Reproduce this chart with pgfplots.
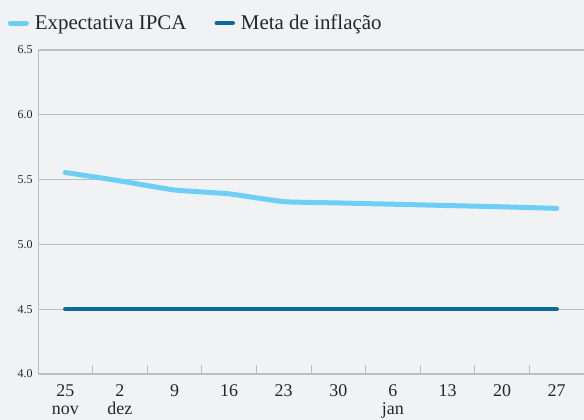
\documentclass[border=0pt]{standalone}
\usepackage{pgfplots}
\pgfplotsset{compat=1.18}
\usepackage{fontspec}
\setmainfont{Liberation Serif}
\definecolor{bgc}{HTML}{F1F2F4}
\definecolor{expc}{HTML}{6ECFF6}
\definecolor{metac}{HTML}{0B6A96}
\definecolor{gridc}{HTML}{BDBDBF}
\definecolor{txtc}{HTML}{262626}

\begin{document}
\begin{tikzpicture}
  \path[fill=bgc, use as bounding box] (0,0) rectangle (584bp,420bp);
  \begin{axis}[
    at={(38bp,46bp)}, anchor=south west,
    scale only axis,
    width=546bp, height=324bp,
    xmin=-0.5, xmax=9.5,
    ymin=4.0, ymax=6.5,
    axis x line=bottom, axis y line=left,
    axis line style={gridc, line width=1bp, -},
    xtick={0,...,9},
    xticklabels={25\\nov, 2\\dez, 9, 16, 23, 30, 6\\jan, 13, 20, 27},
    xticklabel style={align=center, font=\fontsize{18}{18}\selectfont, text=txtc, inner sep=1bp, yshift=-9bp},
    major x tick style={draw=none},
    minor xtick={0.5,1.5,...,8.5},
    minor tick length=9bp,
    minor x tick style={gridc, line width=0.8bp},
    tick align=inside,
    ytick={4.0,4.5,...,6.5},
    major y tick style={draw=none},
    yticklabel style={font=\fontsize{12}{12}\selectfont, text=txtc, xshift=-2bp, /pgf/number format/.cd, fixed, fixed zerofill, precision=1},
    /pgf/number format/assume math mode=true,
    ymajorgrids,
    major grid style={gridc, line width=1.2bp},
    legend style={at={(-0.061,1.083)}, anchor=west, draw=none, fill=none,
      font=\fontsize{21}{21}\selectfont, text=txtc, legend columns=2,
      /tikz/every odd column/.append style={column sep=4bp},
      /tikz/every even column/.append style={column sep=26bp}},
    legend cell align=left,
    legend image code/.code={\draw[#1, line cap=round] (0bp,0bp) -- (16bp,0bp);},
    clip=false,
  ]
    \addplot[expc, line width=5bp, line cap=round, smooth, tension=0.3] coordinates {
      (0, 5.555) (1, 5.49) (2, 5.42) (3, 5.39) (4, 5.33)
      (5, 5.32) (6, 5.31) (7, 5.30) (8, 5.29) (9, 5.278)
    };
    \addplot[metac, line width=4.5bp, line cap=round] coordinates {
      (0, 4.5) (1, 4.5) (2, 4.5) (3, 4.5) (4, 4.5)
      (5, 4.5) (6, 4.5) (7, 4.5) (8, 4.5) (9, 4.5)
    };
    \legend{Expectativa IPCA, Meta de inflação}
  \end{axis}
\end{tikzpicture}
\end{document}
